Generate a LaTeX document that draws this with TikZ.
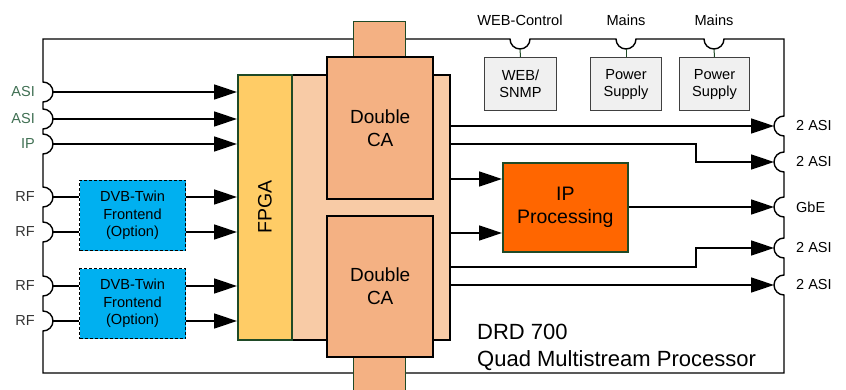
\documentclass[tikz,border=0pt]{standalone}
\usepackage{fontspec}
\setmainfont{Liberation Sans}
\usetikzlibrary{arrows.meta,positioning}
\definecolor{fpgacol}{HTML}{FFCC66}
\definecolor{cacol}{HTML}{F4B183}
\definecolor{boardcol}{HTML}{F8CBA6}
\definecolor{dvbcol}{HTML}{00B0F0}
\definecolor{ipcol}{HTML}{FF6600}
\definecolor{psucol}{HTML}{F0F0F0}
\definecolor{edgegreen}{HTML}{1F4A26}
\definecolor{asigreen}{HTML}{3F6F52}
\definecolor{rfgray}{HTML}{333333}
\tikzset{
  frame/.style={draw, line width=1.4pt},
  wire/.style={draw, line width=1.4pt},
  sig/.style={draw, line width=1.4pt, -{Triangle[length=23pt,width=15pt]}},
  blk/.style={draw, anchor=north west, inner sep=0pt, align=center},
  ca/.style={blk, fill=cacol, line width=2.4pt, font=\fontsize{19}{23}\selectfont},
  dvb/.style={blk, fill=dvbcol, line width=1pt, dash pattern=on 3pt off 2pt, font=\fontsize{14.6}{17.5}\selectfont},
  psu/.style={blk, fill=psucol, draw=black!75, line width=1pt, font=\fontsize{14.6}{17}\selectfont},
  portlbl/.style={inner sep=0pt, font=\fontsize{14.5}{16}\selectfont}
}
\begin{document}
\begin{tikzpicture}[x=1pt,y=-1pt]
\useasboundingbox (0,0) rectangle (846,390);
\draw[frame] (43,373)
  foreach \y in {321,286,232,197,144,119,92} {-- (43,\y+10) arc[start angle=90,end angle=-90,radius=10]}
  -- (43,39)
  foreach \x in {520,626,714} {-- (\x-10,39) arc[start angle=180,end angle=0,radius=10]}
  -- (784,39)
  foreach \y in {126,162,207,248,285} {-- (784,\y-10) arc[start angle=-90,end angle=-270,radius=10]}
  -- (784,373) -- cycle;

\node[blk, fill=cacol, draw=edgegreen, line width=0.8pt, minimum width=52pt, minimum height=36pt] (bartop) at (353,21) {};
\node[blk, fill=cacol, draw=edgegreen, line width=0.8pt, minimum width=52pt, minimum height=40pt] (barbot) at (353,356) {};
\node[blk, fill=boardcol, line width=2pt, minimum width=158pt, minimum height=265pt] (board) at (291,74) {};
\node[ca, minimum width=106pt, minimum height=142pt] (caA) at (326,56) {Double\\CA};
\node[ca, minimum width=106pt, minimum height=141pt] (caB) at (326,215) {Double\\CA};
\node[blk, fill=fpgacol, draw=edgegreen, line width=1.6pt, minimum width=54pt, minimum height=265pt] (fpga) at (237,74) {};
\node[rotate=90, font=\fontsize{19.5}{23}\selectfont] at (fpga.center) {FPGA};

\node[dvb, minimum width=106pt, minimum height=70pt] (dvbA) at (79,180) {DVB-Twin\\Frontend\\(Option)};
\node[dvb, minimum width=106pt, minimum height=70pt] (dvbB) at (79,268) {DVB-Twin\\Frontend\\(Option)};
\node[blk, fill=ipcol, draw=edgegreen, line width=1.6pt, minimum width=125pt, minimum height=89pt, font=\fontsize{19.5}{23}\selectfont] (ip) at (502,162) {IP\\Processing};

\node[psu, minimum width=72pt, minimum height=53pt] (web) at (484,57) {WEB/\\SNMP};
\node[psu, minimum width=71pt, minimum height=53pt] (psuA) at (590,57) {Power\\Supply};
\node[psu, minimum width=70pt, minimum height=53pt] (psuB) at (679,57) {Power\\Supply};

\foreach \x/\t/\b [count=\i] in {520/WEB-Control/web,626/Mains/psuA,714/Mains/psuB} {
  \coordinate (top\i) at (\x,49);
  \node[portlbl, font=\fontsize{14.6}{17}\selectfont] at (\x,20) {\t};
  \draw[edgegreen, line width=1pt] (top\i) -- (\b.north);
}

\foreach \y/\t/\c [count=\i] in {92/ASI/asigreen,119/ASI/asigreen,144/IP/asigreen,197/RF/rfgray,232/RF/rfgray,286/RF/rfgray,321/RF/rfgray} {
  \coordinate (in\i) at (53,\y);
  \node[portlbl, text=\c, anchor=east] at (35,\y) {\t};
}
\foreach \i in {1,2,3} \draw[sig] (in\i) -- (in\i -| fpga.west);
\foreach \i/\d in {4/dvbA,5/dvbA,6/dvbB,7/dvbB} {
  \draw[wire] (in\i) -- (in\i -| \d.west);
  \draw[sig] (in\i -| \d.east) -- (in\i -| fpga.west);
}

\foreach \y/\t [count=\i] in {126/2 ASI,162/2 ASI,207/GbE,248/2 ASI,285/2 ASI} {
  \coordinate (out\i) at (774,\y);
  \node[portlbl, anchor=west] at (796,\y) {\t};
}
\draw[sig] (board.east |- out1) -- (out1);
\draw[sig] (board.east |- 0,144) -| (696,162) -- (out2);
\draw[sig] (board.east |- 0,179) -- (ip.west |- 0,179);
\draw[sig] (board.east |- 0,233) -- (ip.west |- 0,233);
\draw[sig] (ip.east |- out3) -- (out3);
\draw[sig] (board.east |- 0,267) -| (696,248) -- (out4);
\draw[sig] (board.east |- out5) -- (out5);

\node[anchor=north west, inner sep=0pt, align=left, font=\fontsize{22}{27}\selectfont] (title) at (477,324) {DRD 700\\Quad Multistream Processor};
\end{tikzpicture}
\end{document}
